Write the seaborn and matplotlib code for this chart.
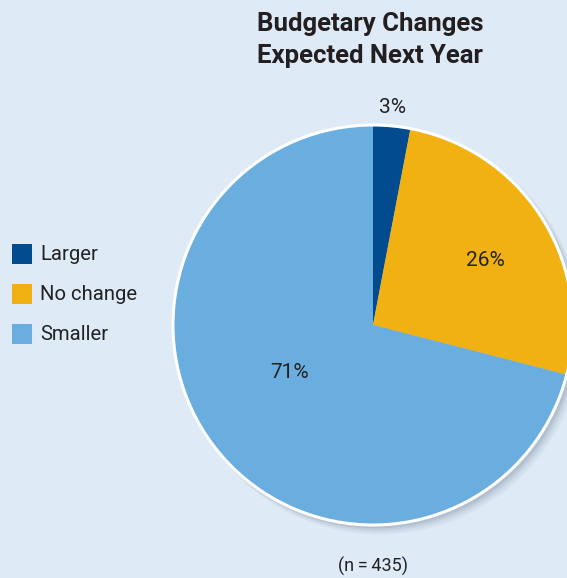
import matplotlib
matplotlib.use("Agg")
import matplotlib.pyplot as plt
from matplotlib.patches import Circle, Rectangle
import seaborn as sns

# Survey responses
categories = ["Larger", "No change", "Smaller"]
shares = [3, 26, 71]
sample_size = 435
title = "Budgetary Changes\nExpected Next Year"

bg = "#deeaf6"
colors = ["#034b8f", "#f1b112", "#6aaddf"]

sns.set_theme(style="white")
plt.rcParams["font.family"] = ["Roboto", "DejaVu Sans"]

W, H = 567, 578
fig = plt.figure(figsize=(W / 100, H / 100), dpi=100, facecolor=bg)

# Pie axes: centre (373, 325) px, radius 200 px
cx, cy, r = 373, 325, 200
ax = fig.add_axes([(cx - r) / W, (H - cy - r) / H, 2 * r / W, 2 * r / H])
ax.set_facecolor("none")

wedges, _ = ax.pie(shares, colors=colors, startangle=90, counterclock=False,
                   radius=1.0, wedgeprops=dict(linewidth=0, edgecolor="none"))
for w in wedges:
    w.set_clip_on(False)
    w.set_zorder(2)

ax.set_xlim(-1, 1)
ax.set_ylim(-1, 1)
ax.set_aspect("equal")
ax.axis("off")

# soft drop shadow toward the lower right
for i, a in enumerate([0.04, 0.05, 0.07, 0.09]):
    off = 0.035 - i * 0.006
    ax.add_patch(Circle((off, -off), 1.0 + 0.004 * (3 - i), color="#2a3a55",
                        alpha=a, lw=0, zorder=0, clip_on=False))

ax.add_patch(Circle((0, 0), 1.0, fill=False, ec="white", lw=2.2, zorder=3,
                    clip_on=False))

# percentage labels
label_pos = [(392, 107), (485, 260), (290, 373)]
for (px, py), v in zip(label_pos, shares):
    fig.text(px / W, 1 - py / H, f"{v}%", ha="center", va="center",
             fontsize=15, color="#222222")

fig.text(370 / W, 1 - 40 / H, title, ha="center", va="center",
         fontsize=18.5, fontweight="bold", color="#231f20", linespacing=1.4)

fig.text(373 / W, 1 - 566 / H, f"(n\u2009=\u2009{sample_size})", ha="center",
         va="center", fontsize=13, color="#222222")

# legend
for i, (name, c) in enumerate(zip(categories, colors)):
    ycen = 254 + 40 * i
    fig.patches.append(Rectangle((12 / W, 1 - (ycen + 10) / H), 20 / W, 20 / H,
                                 transform=fig.transFigure, color=c, lw=0))
    fig.text(40 / W, 1 - (ycen + 1) / H, name, ha="left", va="center",
             fontsize=14.6, color="#222222")

fig.savefig("out.png", dpi=100, facecolor=bg)
